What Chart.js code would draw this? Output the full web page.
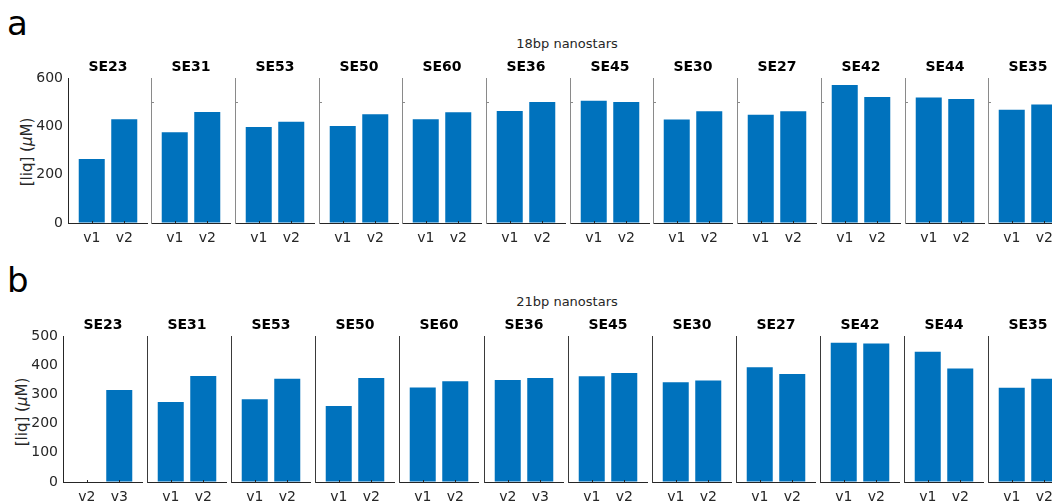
<!DOCTYPE html>
<html>
<head>
<meta charset="utf-8">
<script src="https://cdn.jsdelivr.net/npm/chart.js@4/dist/chart.umd.min.js"></script>
<style>
  html, body { margin: 0; padding: 0; background: #fff; overflow: hidden; width: 1052px; height: 504px; }
  body { position: relative; font-family: "DejaVu Sans", sans-serif; color: #262626; }
  canvas { position: absolute; }
  .lbl { position: absolute; line-height: 1; white-space: nowrap; }
  .center { transform: translate(-50%, -50%); }
  .ytitle { transform: translate(-50%, -50%) rotate(-90deg); font-size: 15px; }
</style>
</head>
<body>
<div class="lbl" style="left:7px;top:5.5px;font-size:34px;color:#000;">a</div>
<div class="lbl" style="left:7px;top:263px;font-size:34px;color:#000;">b</div>
<div class="lbl center" style="left:567px;top:43px;font-size:13px;">18bp nanostars</div>
<div class="lbl center" style="left:567px;top:301px;font-size:13px;">21bp nanostars</div>
<div class="lbl ytitle" style="left:26.5px;top:152px;">[liq] (<i>μ</i>M)</div>
<div class="lbl ytitle" style="left:22px;top:412px;">[liq] (<i>μ</i>M)</div>

<script>
// Sample names, shared by both rows
const samples = ['SE23', 'SE31', 'SE53', 'SE50', 'SE60', 'SE36', 'SE45', 'SE30', 'SE27', 'SE42', 'SE44', 'SE35'];

// 18bp nanostars: version labels and liquid concentrations (µM)
const versions18 = [
  ['v1', 'v2'], ['v1', 'v2'], ['v1', 'v2'], ['v1', 'v2'], ['v1', 'v2'], ['v1', 'v2'],
  ['v1', 'v2'], ['v1', 'v2'], ['v1', 'v2'], ['v1', 'v2'], ['v1', 'v2'], ['v1', 'v2']
];
const first18  = [265, 376, 397, 401, 429, 463, 506, 428, 448, 571, 519, 469];
const second18 = [429, 459, 419, 450, 458, 501, 501, 462, 462, 521, 513, 490];
const yTicks18 = [0, 200, 400, 600];
const innerTicks18 = [500];

// 21bp nanostars
const versions21 = [
  ['v2', 'v3'], ['v1', 'v2'], ['v1', 'v2'], ['v1', 'v2'], ['v1', 'v2'], ['v2', 'v3'],
  ['v1', 'v2'], ['v1', 'v2'], ['v1', 'v2'], ['v1', 'v2'], ['v1', 'v2'], ['v1', 'v2']
];
const first21  = [0, 274, 283, 260, 324, 349, 362, 342, 393, 477, 446, 323];
const second21 = [315, 363, 354, 356, 345, 356, 373, 348, 370, 474, 389, 354];
const yTicks21 = [0, 100, 200, 300, 400, 500];
const innerTicks21 = [];

Chart.defaults.font.family = '"DejaVu Sans", sans-serif';
Chart.defaults.color = '#262626';

// Short inward tick marks on the axes
const innerTickPlugin = {
  id: 'innerTicks',
  afterDraw(chart, args, opts) {
    const ctx = chart.ctx;
    const x = chart.scales.x, y = chart.scales.y;
    const area = chart.chartArea;
    ctx.save();
    ctx.lineWidth = 1;
    ctx.strokeStyle = opts.xColor || '#262626';
    x.ticks.forEach((t, i) => {
      const px = Math.round(x.getPixelForTick(i)) + 0.5;
      ctx.beginPath();
      ctx.moveTo(px, area.bottom);
      ctx.lineTo(px, area.bottom - 2);
      ctx.stroke();
    });
    ctx.strokeStyle = opts.yColor || '#262626';
    (opts.yValues || []).forEach(v => {
      const py = Math.round(y.getPixelForValue(v)) + 0.5;
      ctx.beginPath();
      ctx.moveTo(area.left, py);
      ctx.lineTo(area.left + 3, py);
      ctx.stroke();
    });
    ctx.restore();
  }
};

const LEFT = 50, RIGHT = 4, TOP = 24, BOTTOM = 30, PLOT_W = 76;

function makePanel(cfg, i) {
  const plotLeft = Math.round(cfg.left0 + i * cfg.pitch);
  const w = LEFT + PLOT_W + RIGHT;
  const h = TOP + cfg.plotH + BOTTOM;
  const canvas = document.createElement('canvas');
  canvas.width = w;
  canvas.height = h;
  canvas.style.left = (plotLeft - LEFT) + 'px';
  canvas.style.top = (cfg.plotTop - TOP) + 'px';
  canvas.style.width = w + 'px';
  canvas.style.height = h + 'px';
  document.body.appendChild(canvas);

  const labels = cfg.versions[i];
  const yColor = (i === 0) ? cfg.firstAxisColor : cfg.axisColor;

  new Chart(canvas, {
    type: 'bar',
    data: {
      datasets: [{
        data: [{ x: 1, y: cfg.first[i] }, { x: 2, y: cfg.second[i] }],
        backgroundColor: '#0072BD',
        borderWidth: 0,
        barPercentage: 0.8,
        categoryPercentage: 1
      }]
    },
    options: {
      responsive: false,
      animation: false,
      devicePixelRatio: 1,
      layout: { padding: 0 },
      plugins: {
        legend: { display: false },
        tooltip: { enabled: false },
        title: {
          display: true,
          text: samples[i],
          fullSize: false,
          color: '#000',
          font: { size: 14, weight: 'bold', lineHeight: 1 },
          padding: { top: 6, bottom: 4 }
        },
        innerTicks: { xColor: '#262626', yColor: yColor, yValues: i === 0 ? [] : cfg.inner }
      },
      scales: {
        x: {
          type: 'linear',
          min: 0.27,
          max: 2.73,
          offset: false,
          afterBuildTicks: s => { s.ticks = [{ value: 1 }, { value: 2 }]; },
          afterFit: s => { s.height = BOTTOM; },
          ticks: {
            autoSkip: false,
            maxRotation: 0,
            padding: 7,
            color: '#262626',
            font: { size: 14 },
            callback: (v, idx) => labels[idx]
          },
          grid: { display: true, drawOnChartArea: false, drawTicks: false, offset: false },
          border: { display: true, color: cfg.xAxisColor, width: 1 }
        },
        y: {
          type: 'linear',
          min: 0,
          max: cfg.yMax,
          afterBuildTicks: s => { s.ticks = cfg.yTicks.map(v => ({ value: v })); },
          afterFit: s => { s.width = LEFT; },
          ticks: {
            display: i === 0,
            padding: 5,
            color: '#262626',
            font: { size: 14 }
          },
          grid: { display: true, drawOnChartArea: false, drawTicks: false },
          border: { display: true, color: yColor, width: 1 }
        }
      }
    },
    plugins: [innerTickPlugin]
  });
}

const rows = [
  {
    left0: 67.5, pitch: 83.7, plotTop: 78, plotH: 145, yMax: 600,
    versions: versions18, first: first18, second: second18,
    yTicks: yTicks18, inner: innerTicks18,
    firstAxisColor: '#262626', axisColor: '#8a8a8a', xAxisColor: '#262626'
  },
  {
    left0: 63, pitch: 84.1, plotTop: 336, plotH: 146, yMax: 500,
    versions: versions21, first: first21, second: second21,
    yTicks: yTicks21, inner: innerTicks21,
    firstAxisColor: '#262626', axisColor: '#3a3a3a', xAxisColor: '#262626'
  }
];

rows.forEach(cfg => samples.forEach((_, i) => makePanel(cfg, i)));
</script>
</body>
</html>
